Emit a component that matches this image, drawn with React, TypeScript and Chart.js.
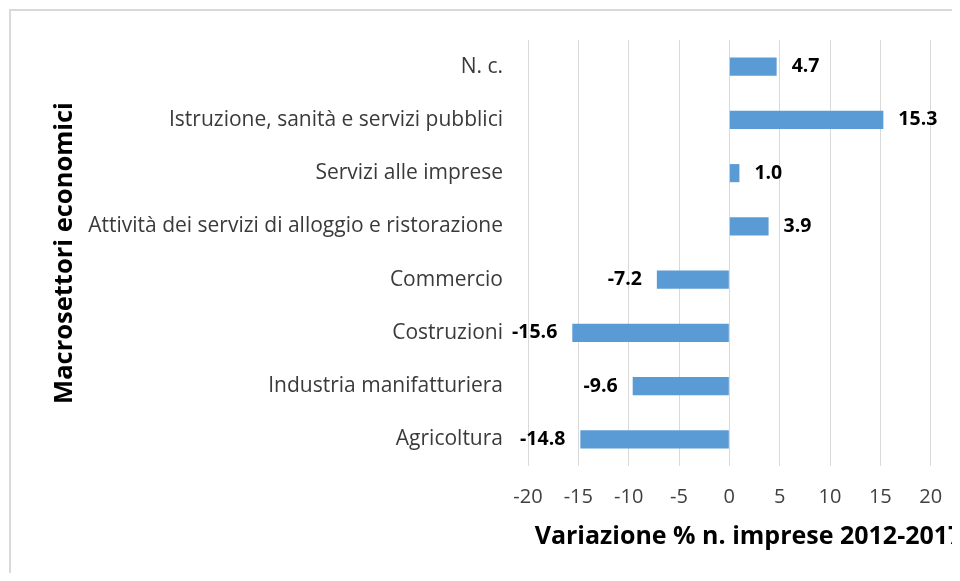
import React, { useEffect, useRef } from "react";
import { Chart, registerables } from "chart.js";

Chart.register(...registerables);

const categories = [
  "N. c.",
  "Istruzione, sanità e servizi pubblici",
  "Servizi alle imprese",
  "Attività dei servizi di alloggio e ristorazione",
  "Commercio",
  "Costruzioni",
  "Industria manifatturiera",
  "Agricoltura",
];
const values = [4.7, 15.3, 1.0, 3.9, -7.2, -15.6, -9.6, -14.8];
const xMin = -20;
const xMax = 25;
const xStep = 5;
const xTitle = "Variazione % n. imprese 2012-2017";
const yTitle = "Macrosettori economici";

const FONT = "'Open Sans', 'Noto Sans', sans-serif";

const dataLabelPlugin = {
  id: "dataLabels",
  afterDatasetsDraw(chart: any) {
    const ctx = chart.ctx;
    const meta = chart.getDatasetMeta(0);
    ctx.save();
    ctx.font = `bold 19.5px ${FONT}`;
    ctx.fillStyle = "#000000";
    ctx.textBaseline = "middle";
    meta.data.forEach((bar: any, i: number) => {
      const v = values[i];
      const txt = v.toFixed(1);
      if (v >= 0) {
        ctx.textAlign = "left";
        ctx.fillText(txt, bar.x + 15, bar.y);
      } else {
        ctx.textAlign = "right";
        ctx.fillText(txt, bar.x - 15, bar.y);
      }
    });
    ctx.restore();
  },
};

const xTitlePlugin = {
  id: "xTitle",
  afterDraw(chart: any) {
    const ctx = chart.ctx;
    const area = chart.chartArea;
    ctx.save();
    ctx.font = `bold 25px ${FONT}`;
    ctx.fillStyle = "#000000";
    ctx.textAlign = "center";
    ctx.textBaseline = "middle";
    ctx.fillText(xTitle, (area.left + area.right) / 2 - 6, area.bottom + 71);
    ctx.restore();
  },
};

export default function App() {
  const ref = useRef<HTMLCanvasElement | null>(null);
  useEffect(() => {
    if (!ref.current) return;
    const chart = new Chart(ref.current, {
      type: "bar",
      data: {
        labels: categories,
        datasets: [
          {
            data: values,
            backgroundColor: "#5B9BD5",
            borderWidth: 0,
            categoryPercentage: 1,
            barPercentage: 0.34,
          },
        ],
      },
      options: {
        indexAxis: "y",
        responsive: false,
        animation: false,
        layout: { padding: { top: 29, right: 30, left: 0, bottom: 45 } },
        plugins: {
          legend: { display: false },
          tooltip: { enabled: false },
        },
        scales: {
          x: {
            min: xMin,
            max: xMax,
            ticks: {
              stepSize: xStep,
              color: "#404040",
              font: { family: FONT, size: 20 },
              padding: 19,
            },
            grid: { color: "#d9d9d9", drawTicks: false, lineWidth: 1 },
            border: { display: false },
            title: { display: false },
            afterFit(scale: any) {
              scale.height = 100;
              scale.paddingLeft = 0;
              scale.paddingRight = 0;
            },
          },
          y: {
            ticks: {
              color: "#3a3a3a",
              font: { family: FONT, size: 21 },
              padding: 25,
            },
            grid: { display: false, drawTicks: false },
            border: { display: false },
            title: {
              display: true,
              text: yTitle,
              color: "#000000",
              font: { family: FONT, size: 25.5, weight: "bold" },
              padding: { top: 38, bottom: 0 },
            },
            afterFit(scale: any) {
              scale.width = 517;
              scale.paddingTop = 0;
              scale.paddingBottom = 0;
            },
          },
        },
      },
      plugins: [dataLabelPlugin, xTitlePlugin],
    });
    return () => chart.destroy();
  }, []);

  return (
    <div style={{ width: 952, height: 565, overflow: "hidden" }}>
      <div
        style={{
          marginLeft: 1,
          marginTop: 1,
          border: "2px solid #d9d9d9",
          width: 1000,
          height: 600,
          background: "#fff",
        }}
      >
        <canvas ref={ref} width={1000} height={600} style={{ display: "block", width: 1000, height: 600 }} />
      </div>
    </div>
  );
}
